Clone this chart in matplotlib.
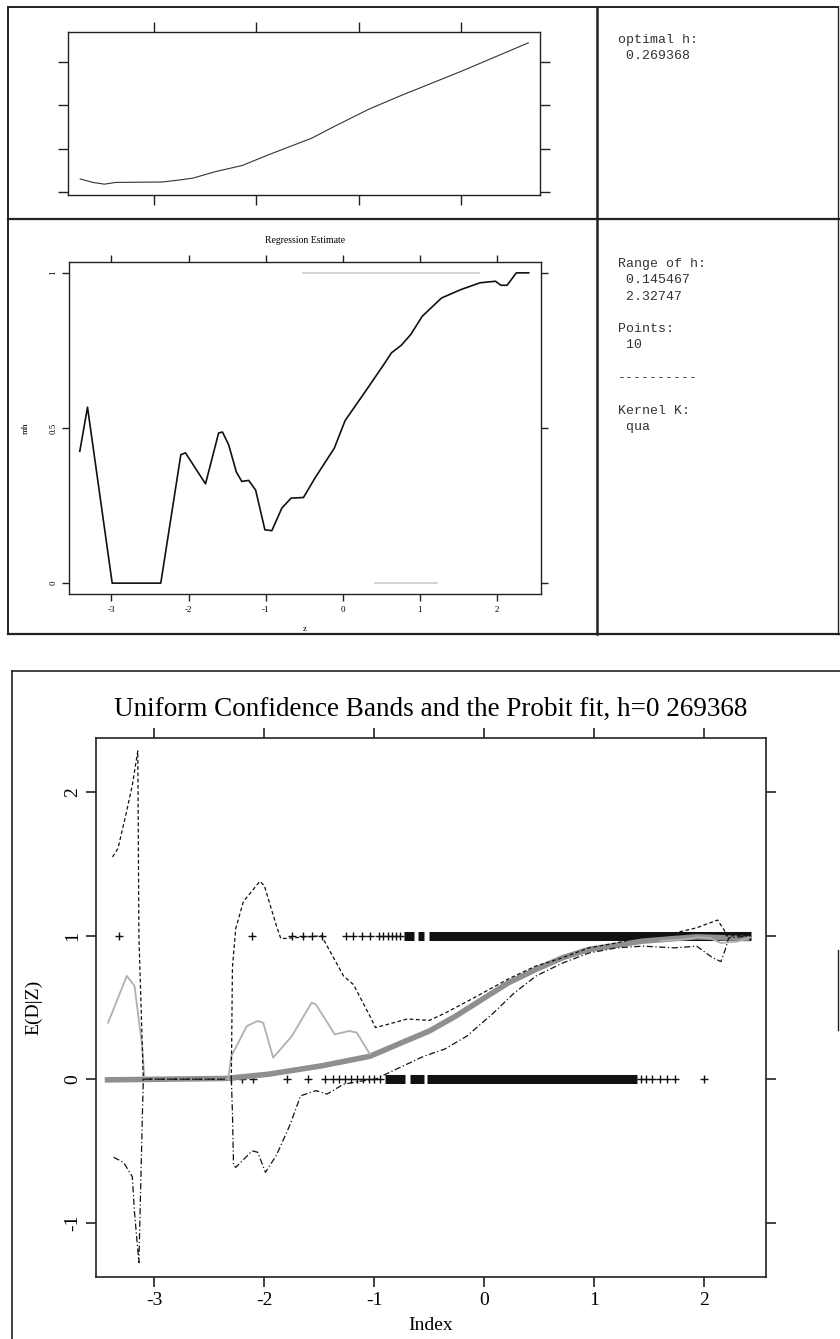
import numpy as np
import matplotlib
matplotlib.use('Agg')
import matplotlib.pyplot as plt

plt.rcParams['axes.unicode_minus'] = False

W, H = 840, 1339

# --- top panel: criterion over bandwidth h ---
h_grid = [0.138, 0.20, 0.256, 0.312, 0.54, 0.63, 0.69, 0.80, 0.93, 1.06, 1.27, 1.38, 1.55, 1.71, 2.00, 2.33]
crit = [1.30, 1.22, 1.18, 1.22, 1.23, 1.28, 1.32, 1.47, 1.61, 1.86, 2.24, 2.51, 2.91, 3.23, 3.78, 4.44]

# --- middle panel: regression estimate mh(z) ---
z_reg = [-3.41, -3.31, -2.99, -2.36, -2.10, -2.04, -1.78, -1.61, -1.56, -1.48, -1.38, -1.31,
         -1.22, -1.13, -1.01, -0.92, -0.79, -0.67, -0.51, -0.36, -0.11, 0.03, 0.31, 0.53,
         0.63, 0.76, 0.88, 1.03, 1.28, 1.53, 1.78, 1.98, 2.05, 2.13, 2.25, 2.41]
mh_reg = [0.425, 0.567, 0.0, 0.0, 0.414, 0.42, 0.32, 0.484, 0.487, 0.446, 0.358, 0.328,
          0.331, 0.30, 0.172, 0.169, 0.242, 0.274, 0.276, 0.339, 0.435, 0.524, 0.624, 0.704,
          0.742, 0.767, 0.801, 0.860, 0.919, 0.946, 0.968, 0.973, 0.960, 0.960, 1.0, 1.0]
gray_top = [-0.51, 1.77]
gray_bot = [0.42, 1.22]

info_top = ["optimal h:", " 0.269368"]
info_bot = ["Range of h:", " 0.145467", " 2.32747", "", "Points:", " 10", "",
            "----------", "", "Kernel K:", " qua"]

# --- bottom panel: confidence bands and probit fit ---
x_probit = [-3.45, -2.35, -1.96, -1.48, -1.04, -0.75, -0.50, -0.26, -0.02, 0.22, 0.47,
            0.71, 0.95, 1.44, 1.93, 2.41]
y_probit = [-0.005, 0.005, 0.035, 0.093, 0.16, 0.255, 0.336, 0.44, 0.557, 0.673, 0.766,
            0.847, 0.905, 0.963, 0.993, 0.98]

x_np1 = [-3.42, -3.25, -3.18, -3.11, -3.09, -2.36]
y_np1 = [0.394, 0.72, 0.65, 0.23, 0.0, 0.0]
x_np2 = [-2.33, -2.30, -2.16, -2.06, -2.01, -1.92, -1.75, -1.57, -1.53, -1.36, -1.23, -1.16, -1.04]
y_np2 = [0.0, 0.16, 0.37, 0.406, 0.394, 0.15, 0.30, 0.534, 0.52, 0.313, 0.336, 0.325, 0.174]
x_np3 = [1.60, 1.80, 1.95, 2.05, 2.15, 2.30, 2.42]
y_np3 = [0.965, 0.975, 0.99, 0.985, 0.95, 0.96, 0.99]

x_up1 = [-3.38, -3.33, -3.26, -3.20, -3.15, -3.14, -3.10, -2.36]
y_up1 = [1.55, 1.61, 1.84, 2.05, 2.29, 1.0, 0.0, 0.0]
x_lo1 = [-3.37, -3.28, -3.20, -3.18, -3.14, -3.11, -3.10, -2.36]
y_lo1 = [-0.545, -0.58, -0.68, -0.93, -1.28, -0.3, 0.0, 0.0]

x_up2 = [-2.30, -2.29, -2.26, -2.19, -2.04, -2.00, -1.89, -1.85, -1.48, -1.28, -1.19, -1.04,
         -0.99, -0.89, -0.70, -0.50, -0.36, -0.12, 0.22, 0.47, 0.71, 0.95, 1.20, 1.44,
         1.73, 1.93, 2.12, 2.18, 2.20, 2.42]
y_up2 = [0.0, 0.78, 1.05, 1.24, 1.38, 1.35, 1.07, 0.98, 1.0, 0.72, 0.66, 0.44,
         0.36, 0.38, 0.42, 0.41, 0.46, 0.557, 0.70, 0.79, 0.847, 0.916, 0.95, 0.993,
         1.02, 1.056, 1.11, 1.04, 1.0, 1.0]
x_lo2 = [-2.30, -2.29, -2.28, -2.26, -2.11, -2.06, -1.99, -1.89, -1.77, -1.67, -1.53, -1.43,
         -1.28, -1.09, -0.99, -0.80, -0.55, -0.36, -0.16, 0.08, 0.27, 0.47, 0.71, 0.95,
         1.20, 1.44, 1.73, 1.93, 2.07, 2.15, 2.19, 2.22, 2.42]
y_lo2 = [0.0, -0.23, -0.60, -0.615, -0.50, -0.51, -0.65, -0.53, -0.325, -0.116, -0.08, -0.104,
         -0.035, -0.01, 0.0, 0.07, 0.16, 0.21, 0.30, 0.46, 0.60, 0.72, 0.81, 0.88,
         0.916, 0.928, 0.916, 0.928, 0.85, 0.82, 0.905, 0.985, 1.0]

ones_single = [-3.32, -2.11, -1.75, -1.65, -1.57, -1.48, -1.26, -1.19, -1.11, -1.04,
               -0.96, -0.92, -0.88, -0.84, -0.80, -0.77]
ones_dense = [(-0.73, -0.64), (-0.60, -0.55), (-0.50, 2.42)]
zeros_single = [-2.30, -2.20, -2.10, -1.79, -1.60, -1.45, -1.38, -1.32, -1.27, -1.21,
                -1.16, -1.10, -1.05, -1.00, -0.95, 1.42, 1.47, 1.52, 1.60, 1.66, 1.73, 2.00]
zeros_dense = [(-0.90, -0.72), (-0.68, -0.55), (-0.52, 1.39)]

title_bot = "Uniform Confidence Bands and the Probit fit, h=0 269368"

SERIF = ['Liberation Serif', 'DejaVu Serif']
MONO = ['Liberation Mono', 'DejaVu Sans Mono']

fig = plt.figure(figsize=(W / 100, H / 100), dpi=100)


def px_axes(left, top, right, bottom):
    return fig.add_axes([left / W, 1 - bottom / H, (right - left) / W, (bottom - top) / H])


# frame lines drawn on a full-figure overlay (pixel coords)
over = fig.add_axes([0, 0, 1, 1], zorder=-1)
over.set_xlim(0, W)
over.set_ylim(H, 0)
over.axis('off')
fc = '#222222'
over.plot([8, 838], [7, 7], color=fc, lw=1.4)
over.plot([8, 840], [219, 219], color=fc, lw=1.6)
over.plot([8, 840], [634, 634], color=fc, lw=1.6)
over.plot([8, 8], [7, 634], color=fc, lw=1.4)
over.plot([597, 597], [7, 634], color=fc, lw=1.8)
over.plot([838, 838], [7, 634], color=fc, lw=1.0)
over.plot([12, 840], [671, 671], color=fc, lw=1.2)
over.plot([12, 12], [671, 1339], color=fc, lw=1.2)
over.plot([838, 838], [950, 1030], color=fc, lw=1.0)

for i, line in enumerate(info_top):
    over.text(618, 40 + i * 16.3, line, family=MONO, fontsize=9.5, va='center', color='#333')
for i, line in enumerate(info_bot):
    if line:
        over.text(618, 264 + i * 16.3, line, family=MONO, fontsize=9.5, va='center', color='#333')


def style_axes(ax, lw=1.0, length=6):
    for s in ax.spines.values():
        s.set_linewidth(lw)
        s.set_color('#222')
    ax.tick_params(direction='out', top=True, right=True, length=length, width=lw,
                   color='#222')


# top-left panel
ax1 = px_axes(68, 32, 540, 195)
ax1.plot(h_grid, crit, color='#333', lw=0.8)
ax1.set_xlim(0.078, 2.387)
ax1.set_ylim(0.93, 4.69)
ax1.set_xticks([0.5, 1.0, 1.5, 2.0])
ax1.set_yticks([1, 2, 3, 4])
style_axes(ax1, lw=1.0, length=7)
ax1.tick_params(labelleft=False, labelbottom=False)

# regression estimate panel
ax2 = px_axes(69, 262, 541, 594)
ax2.plot(z_reg, mh_reg, color='#111', lw=1.2)
ax2.plot(gray_top, [1, 1], color='#cccccc', lw=1.2)
ax2.plot(gray_bot, [0, 0], color='#cccccc', lw=1.2)
ax2.set_xlim(-3.55, 2.57)
ax2.set_ylim(-0.035, 1.035)
ax2.set_xticks([-3, -2, -1, 0, 1, 2])
ax2.set_yticks([0, 0.5, 1])
ax2.set_yticklabels(['0', '0.5', '1'], rotation=90, va='center')
style_axes(ax2, lw=1.0, length=5)
ax2.tick_params(labelsize=6.5)
for lab in ax2.get_xticklabels() + ax2.get_yticklabels():
    lab.set_family(SERIF)
ax2.set_title("Regression Estimate", family=SERIF, fontsize=7, pad=14)
ax2.set_xlabel("z", family=SERIF, fontsize=6.5, labelpad=8)
ax2.set_ylabel("mh", family=SERIF, fontsize=6.5, labelpad=14)

# bottom panel
ax3 = px_axes(96, 738, 766, 1277)
ax3.hlines([1] * len(ones_dense), [a for a, b in ones_dense], [b for a, b in ones_dense],
           color='#111', lw=6.5, zorder=2)
ax3.hlines([0] * len(zeros_dense), [a for a, b in zeros_dense], [b for a, b in zeros_dense],
           color='#111', lw=6.5, zorder=2)
ax3.plot(ones_single, [1] * len(ones_single), '+', color='#111', ms=6, mew=1.0, zorder=2)
ax3.plot(zeros_single, [0] * len(zeros_single), '+', color='#111', ms=6, mew=1.0, zorder=2)
ax3.plot(x_probit, y_probit, color='#8f8f8f', lw=4.0, solid_capstyle='butt', zorder=3)
ax3.plot(x_np1, y_np1, color='#b0b0b0', lw=1.3, zorder=4)
ax3.plot(x_np2, y_np2, color='#b0b0b0', lw=1.3, zorder=4)
ax3.plot(x_np3, y_np3, color='#b0b0b0', lw=1.3, zorder=4)
for xs, ys in [(x_up1, y_up1), (x_up2, y_up2)]:
    ax3.plot(xs, ys, color='#111', lw=0.9, dashes=(3, 2), zorder=5)
for xs, ys in [(x_lo1, y_lo1), (x_lo2, y_lo2)]:
    ax3.plot(xs, ys, color='#111', lw=0.9, dashes=(5, 2, 1, 2), zorder=5)
ax3.set_xlim(-3.53, 2.56)
ax3.set_ylim(-1.38, 2.38)
ax3.set_xticks([-3, -2, -1, 0, 1, 2])
ax3.set_yticks([-1, 0, 1, 2])
ax3.set_yticklabels(['-1', '0', '1', '2'], rotation=90, va='center')
style_axes(ax3, lw=1.2, length=7)
ax3.tick_params(labelsize=14)
for lab in ax3.get_xticklabels() + ax3.get_yticklabels():
    lab.set_family(SERIF)
ax3.set_xlabel("Index", family=SERIF, fontsize=14, labelpad=6)
ax3.set_ylabel("E(D|Z)", family=SERIF, fontsize=14, labelpad=16)
ax3.set_title(title_bot, family=SERIF, fontsize=19.5, pad=16)

fig.savefig("out.png", dpi=100)
